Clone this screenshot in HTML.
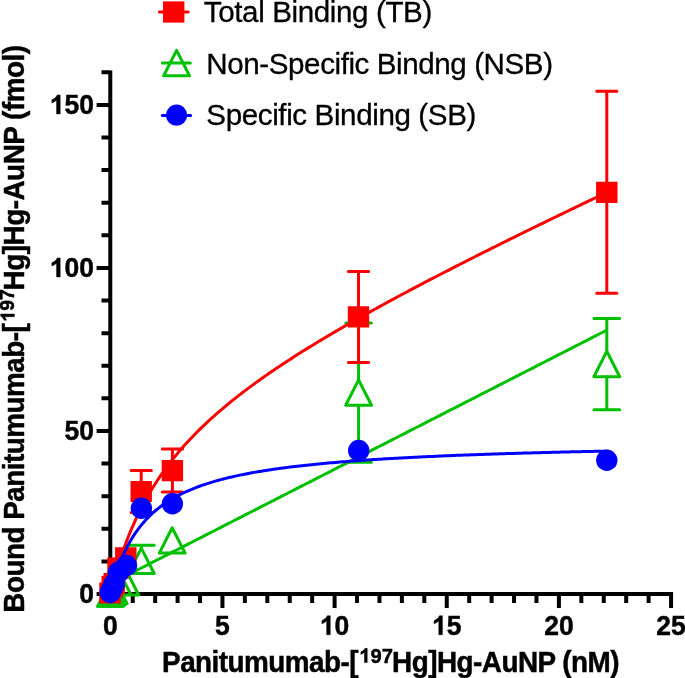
<!DOCTYPE html><html><head><meta charset="utf-8"><style>html,body{margin:0;padding:0;background:#fff;}svg{display:block;}text{font-family:"Liberation Sans",sans-serif;stroke:#000;stroke-width:0.45px;} .lg text{stroke-width:0.3px;} path.one{stroke:#000;}</style></head><body>
<div style="will-change:transform">
<svg width="685" height="678" viewBox="0 0 685 678">
<rect width="685" height="678" fill="#fff"/>
<path d="M110.30 70.4V596 M108.3 594.00H673.1 M96.6 594.00H110.30 M101.5 561.39H110.30 M101.5 528.79H110.30 M101.5 496.18H110.30 M101.5 463.57H110.30 M96.6 430.97H110.30 M101.5 398.36H110.30 M101.5 365.75H110.30 M101.5 333.14H110.30 M101.5 300.54H110.30 M96.6 267.93H110.30 M101.5 235.32H110.30 M101.5 202.72H110.30 M101.5 170.11H110.30 M101.5 137.50H110.30 M96.6 104.89H110.30 M101.5 72.29H110.30 M110.30 594.0V608 M132.73 594.0V602.9 M155.16 594.0V602.9 M177.59 594.0V602.9 M200.02 594.0V602.9 M222.45 594.0V608 M244.88 594.0V602.9 M267.31 594.0V602.9 M289.74 594.0V602.9 M312.17 594.0V602.9 M334.60 594.0V608 M357.03 594.0V602.9 M379.46 594.0V602.9 M401.89 594.0V602.9 M424.32 594.0V602.9 M446.75 594.0V608 M469.18 594.0V602.9 M491.61 594.0V602.9 M514.04 594.0V602.9 M536.47 594.0V602.9 M558.90 594.0V608 M581.33 594.0V602.9 M603.76 594.0V602.9 M626.19 594.0V602.9 M648.62 594.0V602.9 M671.05 594.0V608" stroke="#000" stroke-width="4" fill="none"/>
<g transform="translate(94.0,603.00) scale(1,1.04)"><text x="-14.74" y="0" font-size="26.5" font-weight="bold">0</text></g>
<g transform="translate(94.0,439.97) scale(1,1.04)"><text x="-29.48" y="0" font-size="26.5" font-weight="bold">50</text></g>
<g transform="translate(94.0,276.93) scale(1,1.04)"><path class="one" transform="translate(-44.21,0) scale(0.01294,-0.01294)" d="M804 0H523V1014Q369 876 160 810V1054Q270 1088 399 1185Q528 1281 576 1409H804Z" stroke-width="34.8"/><text x="-29.48" y="0" font-size="26.5" font-weight="bold">00</text></g>
<g transform="translate(94.0,113.89) scale(1,1.04)"><path class="one" transform="translate(-44.21,0) scale(0.01294,-0.01294)" d="M804 0H523V1014Q369 876 160 810V1054Q270 1088 399 1185Q528 1281 576 1409H804Z" stroke-width="34.8"/><text x="-29.48" y="0" font-size="26.5" font-weight="bold">50</text></g>
<g transform="translate(110.30,634.7) scale(1,1.04)"><text x="-7.37" y="0" font-size="26.5" font-weight="bold">0</text></g>
<g transform="translate(222.45,634.7) scale(1,1.04)"><text x="-7.37" y="0" font-size="26.5" font-weight="bold">5</text></g>
<g transform="translate(334.60,634.7) scale(1,1.04)"><path class="one" transform="translate(-14.74,0) scale(0.01294,-0.01294)" d="M804 0H523V1014Q369 876 160 810V1054Q270 1088 399 1185Q528 1281 576 1409H804Z" stroke-width="34.8"/><text x="0.00" y="0" font-size="26.5" font-weight="bold">0</text></g>
<g transform="translate(446.75,634.7) scale(1,1.04)"><path class="one" transform="translate(-14.74,0) scale(0.01294,-0.01294)" d="M804 0H523V1014Q369 876 160 810V1054Q270 1088 399 1185Q528 1281 576 1409H804Z" stroke-width="34.8"/><text x="0.00" y="0" font-size="26.5" font-weight="bold">5</text></g>
<g transform="translate(558.90,634.7) scale(1,1.04)"><text x="-14.74" y="0" font-size="26.5" font-weight="bold">20</text></g>
<g transform="translate(671.05,634.7) scale(1,1.04)"><text x="-14.74" y="0" font-size="26.5" font-weight="bold">25</text></g>
<text transform="translate(162.1,671.7) scale(1,1.025)" font-size="27.9" font-weight="bold" textLength="196.52" lengthAdjust="spacing">Panitumumab-[</text>
<g transform="translate(359.3,662.6) scale(1,1.025)"><path class="one" transform="translate(0.00,0) scale(0.00986,-0.00986)" d="M804 0H523V1014Q369 876 160 810V1054Q270 1088 399 1185Q528 1281 576 1409H804Z" stroke-width="45.6"/><text x="11.23" y="0" font-size="20.2" font-weight="bold">97</text></g>
<text transform="translate(392.1,671.7) scale(1,1.025)" font-size="27.9" font-weight="bold" textLength="227.45" lengthAdjust="spacing">Hg]Hg-AuNP (nM)</text>
<text transform="translate(24,612.7) rotate(-90) scale(1,1.025)" font-size="27.9" font-weight="bold" textLength="289.48" lengthAdjust="spacing">Bound Panitumumab-[</text>
<g transform="translate(14.4,321.7) rotate(-90) scale(1,1.025)"><path class="one" transform="translate(0.00,0) scale(0.00952,-0.00952)" d="M804 0H523V1014Q369 876 160 810V1054Q270 1088 399 1185Q528 1281 576 1409H804Z" stroke-width="47.3"/><text x="10.84" y="0" font-size="19.5" font-weight="bold">97</text></g>
<text transform="translate(24,290.4) rotate(-90) scale(1,1.025)" font-size="27.9" font-weight="bold" textLength="245.45" lengthAdjust="spacing">Hg]Hg-AuNP (fmol)</text>
<path d="M593.95 318.45H619.65M606.80 318.45V351.30M606.80 376.70V409.75M593.95 409.75H619.65 M345.75 323.08H371.45M358.60 323.08V379.90M358.60 405.30V462.32M345.75 462.32H371.45 M128.45 545.31H154.15M141.30 545.31V548.10" stroke="#00c000" stroke-width="3" stroke-linecap="round" fill="none"/>
<path d="M110.75 583.63 L111.12 583.44 L111.49 583.25 L111.87 583.06 L112.24 582.87 L112.61 582.68 L112.98 582.49 L113.36 582.30 L113.73 582.11 L114.10 581.92 L114.47 581.73 L114.85 581.54 L115.22 581.35 L115.59 581.16 L115.96 580.96 L116.34 580.77 L116.71 580.58 L117.08 580.39 L117.45 580.20 L117.83 580.01 L118.20 579.82 L118.57 579.63 L118.95 579.44 L119.32 579.25 L119.69 579.06 L120.06 578.87 L120.44 578.68 L120.81 578.49 L121.18 578.30 L121.55 578.11 L121.93 577.92 L122.30 577.73 L122.67 577.54 L123.04 577.35 L123.42 577.16 L123.79 576.97 L124.16 576.78 L124.53 576.59 L124.91 576.40 L125.28 576.21 L125.65 576.01 L126.02 575.82 L126.40 575.63 L126.77 575.44 L127.14 575.25 L127.51 575.06 L127.89 574.87 L128.26 574.68 L128.63 574.49 L129.00 574.30 L129.38 574.11 L129.75 573.92 L130.12 573.73 L130.49 573.54 L130.87 573.35 L131.24 573.16 L131.61 572.97 L131.98 572.78 L132.36 572.59 L132.73 572.40 L135.11 571.18 L137.50 569.96 L139.88 568.75 L142.26 567.53 L144.64 566.31 L147.03 565.09 L149.41 563.87 L151.79 562.66 L154.17 561.44 L156.56 560.22 L158.94 559.00 L161.32 557.79 L163.71 556.57 L166.09 555.35 L168.47 554.13 L170.85 552.92 L173.24 551.70 L175.62 550.48 L178.00 549.26 L180.39 548.05 L182.77 546.83 L185.15 545.61 L187.53 544.39 L189.92 543.18 L192.30 541.96 L194.68 540.74 L197.06 539.52 L199.45 538.31 L201.83 537.09 L204.21 535.87 L206.60 534.65 L208.98 533.44 L211.36 532.22 L213.74 531.00 L216.13 529.78 L218.51 528.57 L220.89 527.35 L223.28 526.13 L225.66 524.91 L228.04 523.70 L230.42 522.48 L232.81 521.26 L235.19 520.04 L237.57 518.83 L239.95 517.61 L242.34 516.39 L244.72 515.17 L247.10 513.96 L249.49 512.74 L251.87 511.52 L254.25 510.30 L256.63 509.09 L259.02 507.87 L261.40 506.65 L263.78 505.43 L266.16 504.21 L268.55 503.00 L270.93 501.78 L273.31 500.56 L275.70 499.34 L278.08 498.13 L280.46 496.91 L282.84 495.69 L285.23 494.47 L287.61 493.26 L289.99 492.04 L292.38 490.82 L294.76 489.60 L297.14 488.39 L299.52 487.17 L301.91 485.95 L304.29 484.73 L306.67 483.52 L309.05 482.30 L311.44 481.08 L313.82 479.86 L316.20 478.65 L318.59 477.43 L320.97 476.21 L323.35 474.99 L325.73 473.78 L328.12 472.56 L330.50 471.34 L332.88 470.12 L335.27 468.91 L337.65 467.69 L340.03 466.47 L342.41 465.25 L344.80 464.04 L347.18 462.82 L349.56 461.60 L351.94 460.38 L354.33 459.17 L356.71 457.95 L359.09 456.73 L361.48 455.51 L363.86 454.30 L366.24 453.08 L368.62 451.86 L371.01 450.64 L373.39 449.42 L375.77 448.21 L378.15 446.99 L380.54 445.77 L382.92 444.55 L385.30 443.34 L387.69 442.12 L390.07 440.90 L392.45 439.68 L394.83 438.47 L397.22 437.25 L399.60 436.03 L401.98 434.81 L404.37 433.60 L406.75 432.38 L409.13 431.16 L411.51 429.94 L413.90 428.73 L416.28 427.51 L418.66 426.29 L421.04 425.07 L423.43 423.86 L425.81 422.64 L428.19 421.42 L430.58 420.20 L432.96 418.99 L435.34 417.77 L437.72 416.55 L440.11 415.33 L442.49 414.12 L444.87 412.90 L447.25 411.68 L449.64 410.46 L452.02 409.25 L454.40 408.03 L456.79 406.81 L459.17 405.59 L461.55 404.38 L463.93 403.16 L466.32 401.94 L468.70 400.72 L471.08 399.51 L473.47 398.29 L475.85 397.07 L478.23 395.85 L480.61 394.64 L483.00 393.42 L485.38 392.20 L487.76 390.98 L490.14 389.76 L492.53 388.55 L494.91 387.33 L497.29 386.11 L499.68 384.89 L502.06 383.68 L504.44 382.46 L506.82 381.24 L509.21 380.02 L511.59 378.81 L513.97 377.59 L516.36 376.37 L518.74 375.15 L521.12 373.94 L523.50 372.72 L525.89 371.50 L528.27 370.28 L530.65 369.07 L533.03 367.85 L535.42 366.63 L537.80 365.41 L540.18 364.20 L542.57 362.98 L544.95 361.76 L547.33 360.54 L549.71 359.33 L552.10 358.11 L554.48 356.89 L556.86 355.67 L559.24 354.46 L561.63 353.24 L564.01 352.02 L566.39 350.80 L568.78 349.59 L571.16 348.37 L573.54 347.15 L575.92 345.93 L578.31 344.72 L580.69 343.50 L583.07 342.28 L585.46 341.06 L587.84 339.85 L590.22 338.63 L592.60 337.41 L594.99 336.19 L597.37 334.97 L599.75 333.76 L602.13 332.54 L604.52 331.32 L606.90 330.10" stroke="#00c000" stroke-width="3" fill="none"/>
<path d="M606.80 351.30L619.70 376.70L593.90 376.70Z M358.60 379.90L371.50 405.30L345.70 405.30Z M172.20 527.70L185.10 553.10L159.30 553.10Z M141.30 548.10L154.20 573.50L128.40 573.50Z M125.80 569.60L138.70 595.00L112.90 595.00Z M118.20 569.60L131.10 595.00L105.30 595.00Z M114.20 578.20L127.10 603.60L101.30 603.60Z M112.20 579.70L125.10 605.10L99.30 605.10Z M110.40 581.00L123.30 606.40L97.50 606.40Z" stroke="#00c000" stroke-width="3" stroke-linejoin="round" fill="none"/>
<path d="M596.70 91.28H616.90M606.80 91.28V192.30M606.80 192.30V293.32M596.70 293.32H616.90 M348.40 271.41H368.60M358.50 271.41V316.90M358.50 316.90V362.39M348.40 362.39H368.60 M162.30 449.08H182.50M172.40 449.08V470.60M172.40 470.60V492.12M162.30 492.12H182.50 M131.10 470.47H151.30M141.20 470.47V491.50M141.20 491.50V512.53M131.10 512.53H151.30" stroke="#ff0000" stroke-width="3" stroke-linecap="round" fill="none"/>
<path d="M111.26 590.16 L111.63 588.74 L111.99 587.33 L112.36 585.94 L112.72 584.57 L113.08 583.21 L113.45 581.87 L113.81 580.54 L114.18 579.22 L114.54 577.92 L114.90 576.63 L115.27 575.35 L115.63 574.09 L115.99 572.84 L116.36 571.60 L116.72 570.38 L117.09 569.16 L117.45 567.96 L117.81 566.77 L118.18 565.60 L118.54 564.43 L118.90 563.28 L119.27 562.13 L119.63 561.00 L120.00 559.88 L120.36 558.76 L120.72 557.66 L121.09 556.57 L121.45 555.49 L121.82 554.42 L122.18 553.36 L122.54 552.30 L122.91 551.26 L123.27 550.23 L123.63 549.20 L124.00 548.18 L124.36 547.18 L124.73 546.18 L125.09 545.19 L125.45 544.21 L125.82 543.23 L126.18 542.27 L126.55 541.31 L126.91 540.36 L127.27 539.42 L127.64 538.48 L128.00 537.56 L128.36 536.64 L128.73 535.73 L129.09 534.82 L129.46 533.93 L129.82 533.04 L130.18 532.15 L130.55 531.28 L130.91 530.41 L131.27 529.54 L131.64 528.69 L132.00 527.84 L132.37 526.99 L132.73 526.15 L135.11 520.82 L137.50 515.73 L139.88 510.86 L142.26 506.19 L144.64 501.72 L147.03 497.42 L149.41 493.28 L151.79 489.29 L154.17 485.44 L156.56 481.72 L158.94 478.12 L161.32 474.63 L163.71 471.25 L166.09 467.97 L168.47 464.78 L170.85 461.68 L173.24 458.65 L175.62 455.71 L178.00 452.84 L180.39 450.04 L182.77 447.30 L185.15 444.62 L187.53 442.01 L189.92 439.44 L192.30 436.93 L194.68 434.47 L197.06 432.05 L199.45 429.68 L201.83 427.36 L204.21 425.07 L206.60 422.82 L208.98 420.61 L211.36 418.43 L213.74 416.29 L216.13 414.18 L218.51 412.10 L220.89 410.05 L223.28 408.03 L225.66 406.04 L228.04 404.07 L230.42 402.12 L232.81 400.20 L235.19 398.31 L237.57 396.43 L239.95 394.58 L242.34 392.74 L244.72 390.93 L247.10 389.13 L249.49 387.36 L251.87 385.60 L254.25 383.86 L256.63 382.13 L259.02 380.42 L261.40 378.73 L263.78 377.05 L266.16 375.38 L268.55 373.73 L270.93 372.09 L273.31 370.47 L275.70 368.85 L278.08 367.25 L280.46 365.66 L282.84 364.09 L285.23 362.52 L287.61 360.96 L289.99 359.42 L292.38 357.88 L294.76 356.35 L297.14 354.84 L299.52 353.33 L301.91 351.83 L304.29 350.34 L306.67 348.86 L309.05 347.39 L311.44 345.92 L313.82 344.46 L316.20 343.01 L318.59 341.57 L320.97 340.13 L323.35 338.70 L325.73 337.28 L328.12 335.86 L330.50 334.46 L332.88 333.05 L335.27 331.65 L337.65 330.26 L340.03 328.88 L342.41 327.50 L344.80 326.12 L347.18 324.76 L349.56 323.39 L351.94 322.03 L354.33 320.68 L356.71 319.33 L359.09 317.99 L361.48 316.65 L363.86 315.31 L366.24 313.98 L368.62 312.66 L371.01 311.33 L373.39 310.02 L375.77 308.70 L378.15 307.39 L380.54 306.09 L382.92 304.79 L385.30 303.49 L387.69 302.19 L390.07 300.90 L392.45 299.61 L394.83 298.33 L397.22 297.05 L399.60 295.77 L401.98 294.50 L404.37 293.23 L406.75 291.96 L409.13 290.69 L411.51 289.43 L413.90 288.17 L416.28 286.91 L418.66 285.66 L421.04 284.41 L423.43 283.16 L425.81 281.91 L428.19 280.67 L430.58 279.43 L432.96 278.19 L435.34 276.96 L437.72 275.72 L440.11 274.49 L442.49 273.26 L444.87 272.04 L447.25 270.81 L449.64 269.59 L452.02 268.37 L454.40 267.15 L456.79 265.94 L459.17 264.72 L461.55 263.51 L463.93 262.30 L466.32 261.09 L468.70 259.89 L471.08 258.68 L473.47 257.48 L475.85 256.28 L478.23 255.08 L480.61 253.88 L483.00 252.69 L485.38 251.49 L487.76 250.30 L490.14 249.11 L492.53 247.92 L494.91 246.74 L497.29 245.55 L499.68 244.37 L502.06 243.18 L504.44 242.00 L506.82 240.82 L509.21 239.64 L511.59 238.47 L513.97 237.29 L516.36 236.12 L518.74 234.94 L521.12 233.77 L523.50 232.60 L525.89 231.43 L528.27 230.26 L530.65 229.10 L533.03 227.93 L535.42 226.77 L537.80 225.60 L540.18 224.44 L542.57 223.28 L544.95 222.12 L547.33 220.96 L549.71 219.81 L552.10 218.65 L554.48 217.49 L556.86 216.34 L559.24 215.19 L561.63 214.04 L564.01 212.88 L566.39 211.73 L568.78 210.58 L571.16 209.44 L573.54 208.29 L575.92 207.14 L578.31 206.00 L580.69 204.85 L583.07 203.71 L585.46 202.57 L587.84 201.43 L590.22 200.28 L592.60 199.14 L594.99 198.01 L597.37 196.87 L599.75 195.73 L602.13 194.59 L604.52 193.46 L606.90 192.32" stroke="#ff0000" stroke-width="3" fill="none"/>
<path d="M596.10 181.70h21.4v21.2h-21.4Z M347.80 306.30h21.4v21.2h-21.4Z M161.70 460.00h21.4v21.2h-21.4Z M130.50 480.90h21.4v21.2h-21.4Z M115.10 547.20h21.4v21.2h-21.4Z M107.30 557.60h21.4v21.2h-21.4Z M103.50 572.90h21.4v21.2h-21.4Z M101.50 576.00h21.4v21.2h-21.4Z M99.30 582.40h21.4v21.2h-21.4Z" fill="#ff0000"/>
<path d="M111.26 590.21 L111.63 588.83 L111.99 587.48 L112.36 586.15 L112.72 584.84 L113.08 583.55 L113.45 582.29 L113.81 581.05 L114.18 579.84 L114.54 578.64 L114.90 577.46 L115.27 576.31 L115.63 575.17 L115.99 574.05 L116.36 572.95 L116.72 571.87 L117.09 570.80 L117.45 569.75 L117.81 568.72 L118.18 567.71 L118.54 566.71 L118.90 565.72 L119.27 564.76 L119.63 563.80 L120.00 562.86 L120.36 561.94 L120.72 561.03 L121.09 560.13 L121.45 559.25 L121.82 558.37 L122.18 557.51 L122.54 556.67 L122.91 555.83 L123.27 555.01 L123.63 554.20 L124.00 553.40 L124.36 552.61 L124.73 551.84 L125.09 551.07 L125.45 550.31 L125.82 549.57 L126.18 548.83 L126.55 548.10 L126.91 547.39 L127.27 546.68 L127.64 545.98 L128.00 545.29 L128.36 544.61 L128.73 543.94 L129.09 543.28 L129.46 542.63 L129.82 541.98 L130.18 541.34 L130.55 540.71 L130.91 540.09 L131.27 539.47 L131.64 538.87 L132.00 538.27 L132.37 537.68 L132.73 537.09 L135.11 533.42 L137.50 530.02 L139.88 526.86 L142.26 523.92 L144.64 521.17 L147.03 518.59 L149.41 516.17 L151.79 513.89 L154.17 511.75 L156.56 509.73 L158.94 507.82 L161.32 506.01 L163.71 504.30 L166.09 502.67 L168.47 501.12 L170.85 499.65 L173.24 498.25 L175.62 496.91 L178.00 495.63 L180.39 494.41 L182.77 493.24 L185.15 492.12 L187.53 491.04 L189.92 490.01 L192.30 489.02 L194.68 488.07 L197.06 487.16 L199.45 486.28 L201.83 485.43 L204.21 484.61 L206.60 483.82 L208.98 483.06 L211.36 482.33 L213.74 481.61 L216.13 480.93 L218.51 480.26 L220.89 479.62 L223.28 479.00 L225.66 478.39 L228.04 477.81 L230.42 477.24 L232.81 476.69 L235.19 476.15 L237.57 475.63 L239.95 475.13 L242.34 474.64 L244.72 474.16 L247.10 473.70 L249.49 473.25 L251.87 472.81 L254.25 472.38 L256.63 471.96 L259.02 471.55 L261.40 471.16 L263.78 470.77 L266.16 470.40 L268.55 470.03 L270.93 469.67 L273.31 469.32 L275.70 468.98 L278.08 468.64 L280.46 468.31 L282.84 468.00 L285.23 467.68 L287.61 467.38 L289.99 467.08 L292.38 466.79 L294.76 466.50 L297.14 466.22 L299.52 465.95 L301.91 465.68 L304.29 465.42 L306.67 465.16 L309.05 464.91 L311.44 464.66 L313.82 464.42 L316.20 464.18 L318.59 463.95 L320.97 463.72 L323.35 463.49 L325.73 463.27 L328.12 463.06 L330.50 462.85 L332.88 462.64 L335.27 462.43 L337.65 462.23 L340.03 462.04 L342.41 461.84 L344.80 461.65 L347.18 461.47 L349.56 461.28 L351.94 461.10 L354.33 460.92 L356.71 460.75 L359.09 460.58 L361.48 460.41 L363.86 460.24 L366.24 460.08 L368.62 459.92 L371.01 459.76 L373.39 459.60 L375.77 459.45 L378.15 459.30 L380.54 459.15 L382.92 459.01 L385.30 458.86 L387.69 458.72 L390.07 458.58 L392.45 458.44 L394.83 458.31 L397.22 458.17 L399.60 458.04 L401.98 457.91 L404.37 457.78 L406.75 457.66 L409.13 457.53 L411.51 457.41 L413.90 457.29 L416.28 457.17 L418.66 457.05 L421.04 456.94 L423.43 456.82 L425.81 456.71 L428.19 456.60 L430.58 456.49 L432.96 456.38 L435.34 456.27 L437.72 456.17 L440.11 456.06 L442.49 455.96 L444.87 455.86 L447.25 455.76 L449.64 455.66 L452.02 455.56 L454.40 455.47 L456.79 455.37 L459.17 455.28 L461.55 455.18 L463.93 455.09 L466.32 455.00 L468.70 454.91 L471.08 454.82 L473.47 454.73 L475.85 454.65 L478.23 454.56 L480.61 454.48 L483.00 454.39 L485.38 454.31 L487.76 454.23 L490.14 454.15 L492.53 454.07 L494.91 453.99 L497.29 453.91 L499.68 453.84 L502.06 453.76 L504.44 453.68 L506.82 453.61 L509.21 453.54 L511.59 453.46 L513.97 453.39 L516.36 453.32 L518.74 453.25 L521.12 453.18 L523.50 453.11 L525.89 453.04 L528.27 452.97 L530.65 452.91 L533.03 452.84 L535.42 452.77 L537.80 452.71 L540.18 452.64 L542.57 452.58 L544.95 452.52 L547.33 452.46 L549.71 452.39 L552.10 452.33 L554.48 452.27 L556.86 452.21 L559.24 452.15 L561.63 452.09 L564.01 452.04 L566.39 451.98 L568.78 451.92 L571.16 451.86 L573.54 451.81 L575.92 451.75 L578.31 451.70 L580.69 451.64 L583.07 451.59 L585.46 451.54 L587.84 451.48 L590.22 451.43 L592.60 451.38 L594.99 451.33 L597.37 451.28 L599.75 451.23 L602.13 451.18 L604.52 451.13 L606.90 451.08" stroke="#0000ff" stroke-width="3" fill="none"/>
<circle cx="606.80" cy="460.30" r="10.7" fill="#0000ff"/>
<circle cx="358.70" cy="450.50" r="10.7" fill="#0000ff"/>
<circle cx="172.40" cy="503.70" r="10.7" fill="#0000ff"/>
<circle cx="141.40" cy="508.20" r="10.7" fill="#0000ff"/>
<circle cx="126.50" cy="565.50" r="10.7" fill="#0000ff"/>
<circle cx="118.30" cy="572.50" r="10.7" fill="#0000ff"/>
<circle cx="114.20" cy="584.00" r="10.7" fill="#0000ff"/>
<circle cx="112.20" cy="588.50" r="10.7" fill="#0000ff"/>
<circle cx="110.20" cy="592.50" r="10.7" fill="#0000ff"/>
<path d="M159.4 12H188.2" stroke="#ff0000" stroke-width="3" stroke-linecap="round"/>
<rect x="163" y="1.4" width="21.4" height="21.2" fill="#ff0000"/>
<path d="M176.60 50.40L189.50 75.80L163.70 75.80Z" stroke="#00c000" stroke-width="3" stroke-linejoin="round" fill="none"/>
<path d="M162.3 63.1H190.3" stroke="#00c000" stroke-width="3" stroke-linecap="round"/>
<path d="M162.3 115.4H190.6" stroke="#0000ff" stroke-width="3" stroke-linecap="round"/>
<circle cx="176.6" cy="115.2" r="10.6" fill="#0000ff"/>
<g class="lg">
<text transform="translate(203.8,21.7) scale(1,1.025)" font-size="29.6" textLength="228.5" lengthAdjust="spacing">Total Binding (TB)</text>
<text transform="translate(206.3,73.9) scale(1,1.025)" font-size="29.6" textLength="346.75" lengthAdjust="spacing">Non-Specific Bindng (NSB)</text>
<text transform="translate(206.3,125.2) scale(1,1.025)" font-size="29.6" textLength="270.06" lengthAdjust="spacing">Specific Binding (SB)</text>
</g>
</svg></div></body></html>
